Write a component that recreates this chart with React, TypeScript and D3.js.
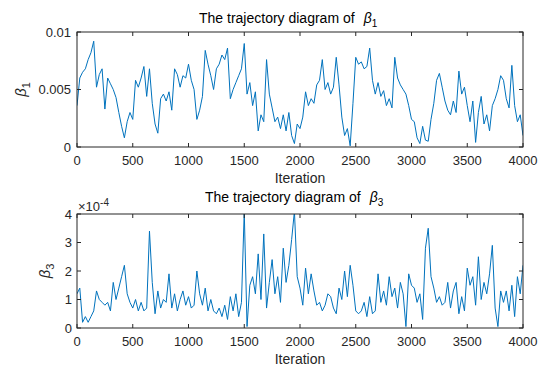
import React from "react";
import * as d3 from "d3";

// Iteration step between sampled readings
const STEP = 25;
const xTicks = [0, 500, 1000, 1500, 2000, 2500, 3000, 3500, 4000];
const beta1Ticks = [0, 0.005, 0.01];
const beta1TickLabels = ["0", "0.005", "0.01"];
const beta3Ticks = [0, 1e-4, 2e-4, 3e-4, 4e-4];
const beta3TickLabels = ["0", "1", "2", "3", "4"];

// beta1 trace, units of 1e-3, every 25 iterations (0..4000)
const beta1 = [
  3.6, 6.0, 6.5, 6.8, 7.6, 8.2, 9.2, 5.2, 6.3, 6.8, 3.3, 6.0, 5.5, 5.0, 4.3, 3.0, 1.8, 0.8, 2.2, 3.0,
  2.4, 5.8, 5.2, 6.0, 7.0, 4.4, 6.8, 3.8, 2.0, 1.2, 4.2, 4.6, 4.0, 4.8, 3.2, 6.8, 6.3, 5.2, 6.2, 6.0,
  7.2,
  5.8, 5.0, 2.4, 3.2, 4.4, 8.4, 7.2, 6.2, 5.0, 6.8, 7.2, 8.0, 7.6, 8.6, 4.2, 5.0, 5.6, 6.2, 6.8, 9.0,
  4.6, 5.6, 3.6, 4.8, 1.4, 2.8, 2.2, 7.6, 4.6, 3.4, 2.2, 2.6, 1.6, 2.8, 1.4, 3.0, 1.0, 0.3, 2.0, 1.6,
  2.6, 4.8, 3.6, 4.2, 3.8, 5.4, 5.8, 7.6, 5.0, 5.6, 4.6, 5.2, 7.8, 5.4, 2.6, 1.0, 1.6, 0.1, 3.8, 7.8,
  7.2, 7.4, 6.8, 7.0, 8.6, 5.8, 4.6, 5.6, 4.4, 4.9, 3.6, 4.2, 3.4, 7.8, 6.0, 5.4, 5.0, 4.6, 3.6, 2.4,
  2.2, 0.8, 0.3, 1.8, 0.6, 0.5, 2.4, 3.8, 5.8, 6.4, 5.2, 4.0, 3.2, 2.8, 4.0, 3.0, 6.6, 4.6, 5.2, 3.6,
  2.2, 4.0, 0.4, 3.0, 4.4, 2.0, 2.8, 1.4, 3.6, 4.2, 5.0, 6.2, 5.8, 4.2, 3.4, 7.1, 3.6, 2.2, 2.8, 1.0,
];

// beta3 trace, units of 1e-4, every 25 iterations (0..4000)
const beta3 = [
  1.2, 1.4, 0.2, 0.4, 0.2, 0.4, 0.6, 1.3, 1.0, 0.9, 0.8, 0.9, 0.6, 1.6, 1.0, 1.4, 1.8, 2.2, 1.2, 0.9,
  0.7, 1.0, 0.6, 0.9, 0.6, 0.7, 3.4, 1.6, 0.5, 1.3, 0.7, 1.0, 0.9, 1.9, 0.7, 1.2, 0.6, 1.0, 1.3, 0.8,
  1.1,
  0.7, 0.8, 2.0, 1.2, 0.8, 1.4, 0.6, 1.0, 0.6, 0.5, 0.7, 0.4, 0.8, 0.3, 1.1, 0.6, 1.2, 0.4, 0.9, 4.1,
  0.05, 1.5, 1.8, 1.2, 2.6, 1.0, 3.3, 0.7, 1.6, 2.4, 1.2, 1.8, 0.9, 2.8, 1.6, 2.2, 3.1, 4.1, 1.8, 1.4,
  0.8, 2.1, 1.2, 1.9, 1.3, 0.8, 0.9, 0.6, 0.8, 1.2, 1.1, 0.7, 0.5, 1.4, 1.0, 2.0, 1.1, 2.2, 1.5, 0.6,
  0.5, 0.6, 0.9, 0.4, 1.1, 0.5, 0.6, 1.9, 0.9, 1.3, 0.8, 1.8, 1.1, 1.4, 0.7, 1.6, 1.2, 0.05, 1.9, 1.5,
  1.4, 0.9, 1.2, 0.3, 2.8, 3.5, 1.8, 1.4, 0.9, 1.1, 0.8, 0.9, 1.6, 0.7, 1.3, 1.6, 0.5, 1.1, 0.6, 2.1,
  1.5, 1.8, 0.8, 2.5, 1.0, 1.6, 1.2, 1.9, 2.9, 0.7, 0.05, 1.3, 0.9, 1.3, 0.6, 1.5, 0.4, 1.8, 1.2, 2.2,
];

const AX = "#262626";
const LINE = "#0072BD";
const FONT = "'Liberation Sans', Arial, Helvetica, sans-serif";

type PanelProps = {
  id: string;
  top: number;
  bottom: number;
  domainMax: number;
  values: number[];
  scale: number;
  yTicks: number[];
  yTickLabels: string[];
  sub: string;
  titleX: number;
  titleY: number;
  ylabelX: number;
  tickLabelRight: number;
  exponent?: boolean;
};

const left = 77;
const right = 523;

function Panel(p: PanelProps) {
  const x = d3.scaleLinear().domain([0, 4000]).range([left, right]);
  const y = d3.scaleLinear().domain([0, p.domainMax]).range([p.bottom, p.top]);
  const line = d3
    .line<number>()
    .x((_, i) => x(i * STEP))
    .y((v) => y(v * p.scale))
    .curve(d3.curveLinear);
  const tl = 4;
  const midY = (p.top + p.bottom) / 2;
  return (
    <g>
      <defs>
        <clipPath id={p.id}>
          <rect x={left} y={p.top} width={right - left} height={p.bottom - p.top} />
        </clipPath>
      </defs>
      <path d={line(p.values) || ""} fill="none" stroke={LINE} strokeWidth={1} strokeLinejoin="round" clipPath={`url(#${p.id})`} />
      <rect x={left} y={p.top} width={right - left} height={p.bottom - p.top} fill="none" stroke={AX} strokeWidth={1} />
      {xTicks.map((t) => (
        <g key={"x" + t}>
          <line x1={x(t)} x2={x(t)} y1={p.bottom} y2={p.bottom - tl} stroke={AX} />
          <line x1={x(t)} x2={x(t)} y1={p.top} y2={p.top + tl} stroke={AX} />
          <text x={x(t)} y={p.bottom + 18} textAnchor="middle" fontSize={13} fill={AX} fontFamily={FONT}>
            {t}
          </text>
        </g>
      ))}
      {p.yTicks.map((t, i) => (
        <g key={"y" + t}>
          <line x1={left} x2={left + tl} y1={y(t)} y2={y(t)} stroke={AX} />
          <line x1={right} x2={right - tl} y1={y(t)} y2={y(t)} stroke={AX} />
          <text x={p.tickLabelRight} y={y(t) + 4.5} textAnchor="end" fontSize={13} fill={AX} fontFamily={FONT}>
            {p.yTickLabels[i]}
          </text>
        </g>
      ))}
      <text x={p.titleX} y={p.titleY} fontSize={14} fill="#000" fontFamily={FONT}>
        The trajectory diagram of
        <tspan dx={9} fontStyle="italic">β</tspan>
        <tspan dy={4} fontSize={10}>{p.sub}</tspan>
      </text>
      <text x={300} y={p.bottom + 36} textAnchor="middle" fontSize={14} fill={AX} fontFamily={FONT}>
        Iteration
      </text>
      <text
        transform={`translate(${p.ylabelX},${midY}) rotate(-90)`}
        textAnchor="middle"
        fontSize={15}
        fill={AX}
        fontFamily={FONT}
      >
        <tspan fontStyle="italic">β</tspan>
        <tspan dy={4} fontSize={11}>{p.sub}</tspan>
      </text>
      {p.exponent && (
        <text x={left + 1} y={p.top - 3} fontSize={13} fill={AX} fontFamily={FONT}>
          ×10
          <tspan dy={-5} fontSize={10}>-4</tspan>
        </text>
      )}
    </g>
  );
}

export default function App() {
  return (
    <svg
      width={543}
      height={370}
      style={{ position: "absolute", left: 0, top: 0, background: "#fff" }}
    >
      <rect width={543} height={370} fill="#fff" />
      <Panel
        id="c1"
        top={32}
        bottom={147}
        domainMax={0.01}
        values={beta1}
        scale={1e-3}
        yTicks={beta1Ticks}
        yTickLabels={beta1TickLabels}
        sub="1"
        titleX={199}
        titleY={23}
        ylabelX={26}
        tickLabelRight={71}
      />
      <Panel
        id="c3"
        top={214}
        bottom={328}
        domainMax={4e-4}
        values={beta3}
        scale={1e-4}
        yTicks={beta3Ticks}
        yTickLabels={beta3TickLabels}
        sub="3"
        titleX={205}
        titleY={202}
        ylabelX={50}
        tickLabelRight={72}
        exponent
      />
    </svg>
  );
}
